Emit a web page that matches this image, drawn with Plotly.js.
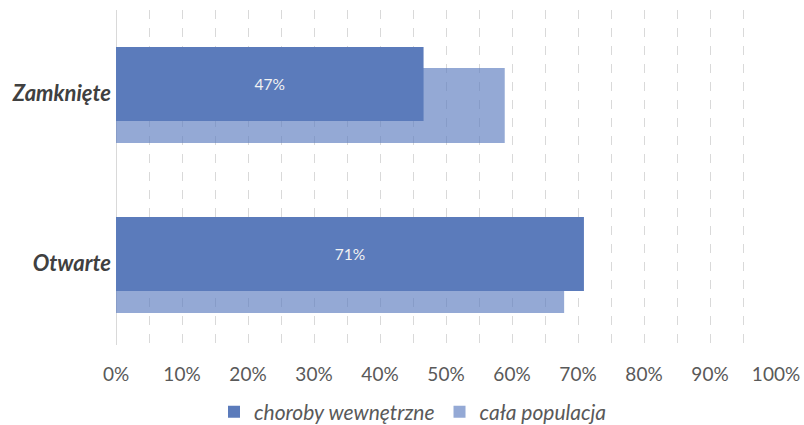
<!DOCTYPE html>
<html>
<head>
<meta charset="utf-8">
<script src="https://cdn.plot.ly/plotly-3.0.1.min.js"></script>
<style>html,body{margin:0;padding:0;background:#fff;}#chart{width:804px;height:425px;}</style>
</head>
<body>
<div id="chart"></div>
<script>
const categories = ['Otwarte', 'Zamknięte'];
const seriesNames = ['choroby wewnętrzne', 'cała populacja'];
const chorobyWewnetrzne = [0.709, 0.466];
const calaPopulacja = [0.679, 0.589];
const xTickVals = [0, 0.1, 0.2, 0.3, 0.4, 0.5, 0.6, 0.7, 0.8, 0.9, 1.0];
const xTickText = ['0%', '10%', '20%', '30%', '40%', '50%', '60%', '70%', '80%', '90%', '100%'];

const traces = [
  {
    type: 'bar', orientation: 'h', name: seriesNames[1],
    y: categories, x: calaPopulacja,
    offset: -0.292, width: 0.441,
    marker: {color: 'rgba(91,123,191,0.65)'},
    hoverinfo: 'skip', legendrank: 2
  },
  {
    type: 'bar', orientation: 'h', name: seriesNames[0],
    y: categories, x: chorobyWewnetrzne,
    offset: -0.163, width: 0.435,
    marker: {color: '#5B7BBB'},
    texttemplate: '%{x:.0%}', textposition: 'inside', insidetextanchor: 'middle',
    textfont: {family: 'Lato', size: 15.5, color: '#F2F2F2'},
    hoverinfo: 'skip', legendrank: 1
  }
];

const layout = {
  width: 804, height: 425,
  margin: {l: 116, r: 28, t: 10, b: 80, autoexpand: false},
  paper_bgcolor: '#ffffff', plot_bgcolor: '#ffffff',
  barmode: 'overlay',
  font: {family: 'Lato', color: '#595959'},
  showlegend: true,
  legend: {
    orientation: 'h', x: 0.45, xanchor: 'center', y: -0.2, yanchor: 'middle',
    font: {family: 'Lato', size: 21, color: '#595959', style: 'italic'},
    itemwidth: 30
  },
  xaxis: {
    range: [0, 1], tickvals: xTickVals, ticktext: xTickText,
    tickfont: {family: 'Lato', size: 19, color: '#595959'},
    showgrid: true, gridcolor: '#d9d9d9', griddash: 'dash', gridwidth: 1,
    minor: {dtick: 0.05, tick0: 0, showgrid: true, gridcolor: '#d9d9d9', griddash: 'dash', gridwidth: 1},
    zeroline: true, zerolinecolor: '#d9d9d9', zerolinewidth: 1,
    ticks: '', ticklabelstandoff: 16, fixedrange: true
  },
  yaxis: {
    range: [-0.48, 1.49], showgrid: false, zeroline: false, ticks: '',
    tickfont: {family: 'Lato', size: 22, color: '#404040', weight: 'bold', style: 'italic'},
    ticklabelstandoff: 4, fixedrange: true
  }
};

Plotly.newPlot('chart', traces, layout, {displayModeBar: false, staticPlot: true});
</script>
</body>
</html>
